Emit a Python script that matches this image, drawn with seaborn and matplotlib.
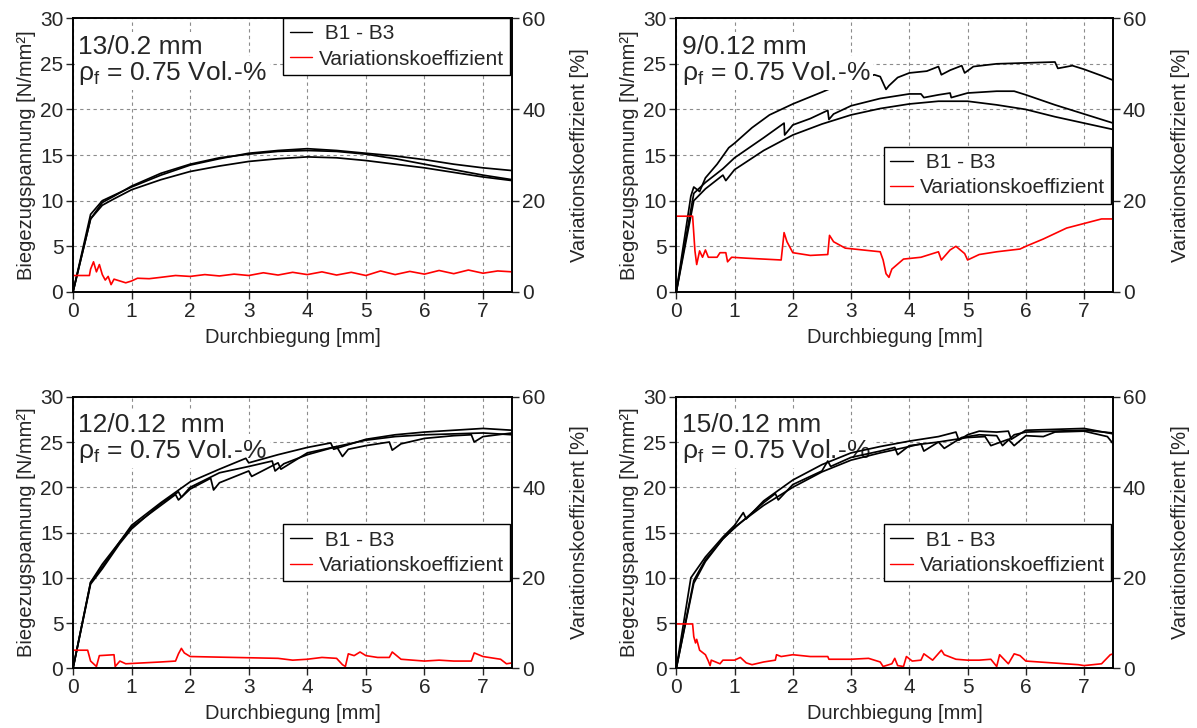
import matplotlib
matplotlib.use("Agg")
import matplotlib.pyplot as plt
import seaborn as sns
from matplotlib.lines import Line2D

# panel titles
titles = ["13/0.2 mm", "9/0.12 mm", "12/0.12  mm", "15/0.12 mm"]
rho_text = r"ρ$_\mathrm{f}$ = 0.75 Vol.-%"
legend_labels = [" B1 - B3", "Variationskoeffizient"]

# --- 13/0.2 mm: stress [N/mm²] vs deflection [mm], B1..B3
d13_x = [0, 0.3, 0.5, 0.7, 1, 1.5, 2, 2.5, 3, 3.5, 4, 4.5, 5, 5.5, 6, 6.5, 7, 7.5]
d13_y1 = [0, 8.5, 10, 10.6, 11.5, 12.8, 13.9, 14.6, 15.2, 15.5, 15.7, 15.5, 15.2, 14.9, 14.5, 14.0, 13.6, 13.3]
d13_y2 = [0, 8, 9.8, 10.5, 11.6, 13, 14, 14.7, 15.1, 15.4, 15.5, 15.4, 15.1, 14.6, 14.0, 13.4, 12.8, 12.3]
d13_y3 = [0, 8, 9.5, 10.2, 11.2, 12.3, 13.2, 13.8, 14.3, 14.6, 14.8, 14.7, 14.4, 14.0, 13.6, 13.1, 12.6, 12.2]
# coefficient of variation [%]
cov13_x = [0, 0.28, 0.3, 0.35, 0.4, 0.45, 0.5, 0.55, 0.6, 0.65, 0.7, 0.8, 0.9, 1.0, 1.1, 1.3, 1.5, 1.75, 2.0, 2.25,
           2.5, 2.75, 3.0, 3.25, 3.5, 3.75, 4.0, 4.25, 4.5, 4.75, 5.0, 5.25, 5.5, 5.75, 6.0, 6.25, 6.5, 6.75, 7.0, 7.25, 7.5]
cov13_y = [3.6, 3.6, 5.0, 6.6, 4.4, 6.0, 3.8, 2.6, 3.4, 1.6, 2.8, 2.4, 2.0, 2.4, 3.0, 2.9, 3.2, 3.6, 3.4, 3.8,
           3.5, 3.9, 3.6, 4.2, 3.7, 4.3, 3.8, 4.4, 3.7, 4.3, 3.6, 4.6, 3.8, 4.5, 3.9, 4.7, 4.0, 4.8, 4.1, 4.6, 4.4]

# --- 9/0.12 mm
d9_x1 = [0, 0.25, 0.3, 0.4, 0.5, 0.7, 0.9, 1.0, 1.3, 1.6, 2.0, 2.5, 2.8, 3.4, 3.5, 3.6, 3.65, 3.8, 4.0, 4.3,
         4.5, 4.55, 4.7, 4.9, 4.95, 5.1, 5.5, 6.0, 6.5, 6.55, 6.8, 7.0, 7.3, 7.5]
d9_y1 = [0, 10.5, 11.5, 11.0, 12.5, 14.0, 15.8, 16.3, 18.0, 19.4, 20.6, 21.9, 22.7, 23.8, 23.6, 22.2, 22.6, 23.5, 24.0, 24.2,
         24.7, 23.8, 24.3, 24.8, 24.0, 24.7, 25.0, 25.1, 25.2, 24.5, 24.8, 24.4, 23.7, 23.2]
d9_x2 = [0, 0.3, 0.5, 0.8, 1.0, 1.5, 1.85, 1.86, 2.0, 2.3, 2.6, 2.62, 2.7, 3.0, 3.5, 4.0, 4.2, 4.25, 4.5, 4.7,
         4.72, 5.0, 5.5, 5.8, 6.0, 6.5, 7.0, 7.5]
d9_y2 = [0, 10.8, 12.0, 13.5, 14.7, 16.9, 18.5, 17.2, 18.3, 19.0, 19.9, 18.9, 19.5, 20.4, 21.2, 21.7, 21.7, 21.3, 21.6, 21.8,
         21.3, 21.8, 22.0, 22.0, 21.6, 20.5, 19.5, 18.5]
d9_x3 = [0, 0.3, 0.5, 0.8, 0.85, 1.0, 1.5, 2.0, 2.5, 3.0, 3.5, 4.0, 4.5, 5.0, 5.5, 6.0, 6.5, 7.0, 7.5]
d9_y3 = [0, 10.0, 11.3, 12.8, 12.2, 13.4, 15.5, 17.2, 18.4, 19.4, 20.1, 20.6, 20.9, 20.9, 20.5, 20.0, 19.2, 18.5, 17.8]
cov9_x = [0, 0.28, 0.32, 0.35, 0.4, 0.45, 0.5, 0.55, 0.7, 0.75, 0.85, 0.88, 0.95, 1.2, 1.5, 1.8, 1.85, 1.9, 2.0, 2.3,
          2.6, 2.63, 2.7, 2.9, 3.2, 3.5, 3.55, 3.6, 3.65, 3.7, 3.9, 4.2, 4.5, 4.55, 4.7, 4.8, 4.95, 5.0, 5.2, 5.5,
          5.9, 6.0, 6.3, 6.5, 6.7, 7.0, 7.3, 7.5]
cov9_y = [16.6, 16.6, 9.0, 6.0, 9.0, 7.6, 9.2, 7.6, 7.6, 8.6, 8.6, 6.6, 7.6, 7.4, 7.2, 7.0, 13.0, 11.0, 8.6, 8.0,
          8.2, 12.4, 11.0, 9.6, 9.2, 8.8, 7.0, 4.0, 3.2, 5.0, 7.2, 7.6, 8.8, 7.0, 9.2, 10.0, 8.4, 7.0, 8.2, 8.8,
          9.4, 10.0, 11.6, 12.8, 14.0, 15.0, 16.0, 16.0]

# --- 12/0.12 mm
d12_x1 = [0, 0.3, 0.5, 0.8, 1.0, 1.5, 2.0, 2.5, 2.95, 3.0, 3.5, 4.0, 4.4, 4.45, 5.0, 5.5, 6.0, 6.5, 7.0, 7.5]
d12_y1 = [0, 9.5, 11.5, 14.0, 15.8, 18.3, 20.6, 22.0, 23.2, 22.7, 23.6, 24.4, 24.9, 24.2, 25.3, 25.8, 26.1, 26.3, 26.5, 26.3]
d12_x2 = [0, 0.3, 0.5, 0.8, 1.0, 1.5, 1.75, 1.8, 2.0, 2.35, 2.4, 2.5, 3.0, 3.05, 3.5, 3.55, 4.0, 4.5, 4.6, 4.7,
          5.0, 5.4, 5.45, 5.6, 6.0, 6.5, 6.8, 6.85, 7.0, 7.5]
d12_y2 = [0, 9.5, 11.2, 14.0, 15.6, 18.0, 19.2, 18.6, 19.8, 21.0, 19.7, 20.5, 21.8, 21.2, 22.7, 22.0, 23.8, 24.5, 23.4, 24.2,
          24.6, 25.0, 24.1, 24.8, 25.4, 25.7, 25.8, 25.0, 25.6, 26.0]
d12_x3 = [0, 0.3, 0.5, 0.8, 1.0, 1.5, 1.8, 1.85, 2.0, 2.5, 3.0, 3.4, 3.45, 3.6, 4.0, 4.5, 5.0, 5.5, 6.0, 6.5, 7.0, 7.5]
d12_y3 = [0, 9.3, 11.0, 13.8, 15.4, 18.2, 19.5, 18.9, 20.0, 21.6, 22.3, 22.9, 21.8, 22.6, 23.6, 24.5, 25.2, 25.6, 25.8, 25.9, 26.0, 25.8]
cov12_x = [0, 0.25, 0.3, 0.4, 0.45, 0.7, 0.72, 0.8, 0.9, 1.2, 1.5, 1.75, 1.8, 1.85, 1.9, 2.0, 3.5, 3.75, 4.0, 4.25,
           4.5, 4.6, 4.65, 4.7, 4.8, 4.9, 5.0, 5.2, 5.4, 5.45, 5.6, 6.0, 6.25, 6.5, 6.8, 6.85, 7.0, 7.3, 7.4, 7.5]
cov12_y = [4.0, 4.0, 1.6, 0.4, 2.8, 3.0, 0.4, 1.6, 1.0, 1.2, 1.4, 1.6, 3.2, 4.4, 3.4, 2.6, 2.2, 1.8, 2.0, 2.4,
           2.2, 0.8, 0.4, 3.2, 2.8, 3.6, 2.8, 2.4, 2.4, 3.6, 2.0, 1.6, 1.8, 1.6, 1.6, 3.4, 2.6, 2.0, 1.0, 1.2]

# --- 15/0.12 mm
d15_x1 = [0, 0.25, 0.5, 0.8, 1.0, 1.15, 1.2, 1.5, 2.0, 2.5, 3.0, 3.5, 4.0, 4.5, 4.8, 4.85, 5.0, 5.2, 5.5, 5.7,
          5.75, 6.0, 6.5, 7.0, 7.5]
d15_y1 = [0, 10.0, 12.3, 14.5, 15.8, 17.2, 16.5, 18.5, 20.8, 22.5, 23.8, 24.5, 25.1, 25.6, 26.1, 25.2, 25.8, 26.2, 26.1, 26.2,
          25.3, 26.3, 26.4, 26.5, 25.9]
d15_x2 = [0, 0.3, 0.5, 0.8, 1.0, 1.5, 1.7, 1.75, 2.0, 2.5, 2.6, 2.65, 3.0, 3.5, 3.75, 3.8, 4.0, 4.5, 4.6, 4.9,
          5.2, 5.5, 5.6, 5.8, 6.0, 6.5, 7.0, 7.5]
d15_y2 = [0, 9.7, 12.0, 14.3, 15.5, 18.3, 19.3, 18.6, 20.3, 21.8, 22.9, 22.3, 23.3, 24.0, 24.4, 23.6, 24.6, 25.0, 24.3, 25.5,
          25.8, 25.7, 24.6, 25.8, 26.1, 26.2, 26.3, 26.0]
d15_x3 = [0, 0.3, 0.5, 0.8, 1.0, 1.5, 2.0, 2.5, 3.0, 3.5, 4.0, 4.2, 4.25, 4.5, 4.8, 5.0, 5.3, 5.4, 5.7, 5.8,
          6.0, 6.3, 6.5, 7.0, 7.4, 7.5]
d15_y3 = [0, 9.4, 11.8, 14.3, 15.6, 18.0, 20.0, 21.7, 23.0, 23.8, 24.5, 24.8, 24.0, 25.0, 25.3, 25.5, 25.6, 24.6, 25.3, 24.6,
          25.7, 25.6, 26.1, 26.2, 25.6, 24.8]
cov15_x = [0, 0.28, 0.3, 0.33, 0.35, 0.4, 0.5, 0.55, 0.58, 0.6, 0.75, 0.8, 1.0, 1.1, 1.2, 1.3, 1.5, 1.7, 1.72, 1.8,
           2.0, 2.3, 2.6, 2.62, 3.0, 3.3, 3.5, 3.55, 3.7, 3.75, 3.8, 3.9, 3.95, 4.05, 4.2, 4.25, 4.4, 4.55, 4.6, 4.8,
           5.0, 5.2, 5.4, 5.5, 5.55, 5.7, 5.8, 5.9, 6.0, 6.9, 7.0, 7.3, 7.45, 7.5]
cov15_y = [9.8, 9.8, 7.0, 5.6, 6.4, 4.0, 3.0, 1.6, 0.6, 1.8, 1.0, 1.8, 1.8, 2.4, 1.2, 0.8, 1.4, 1.8, 3.0, 2.6,
           3.0, 2.6, 2.6, 2.0, 2.0, 2.2, 1.4, 0.4, 1.0, 2.2, 0.6, 0.4, 2.6, 1.6, 1.8, 3.2, 1.8, 4.0, 3.0, 2.0,
           1.8, 1.8, 2.0, 0.4, 3.0, 1.0, 3.2, 2.8, 1.6, 0.8, 0.6, 1.0, 3.0, 3.2]

sns.set_style("ticks")
plt.rcParams["font.family"] = ["Liberation Sans", "DejaVu Sans"]
plt.rcParams["mathtext.fontset"] = "custom"
plt.rcParams["mathtext.rm"] = "Liberation Sans"
plt.rcParams["mathtext.it"] = "Liberation Sans:italic"

panels = [
    dict(title=titles[0], curves=[(d13_x, d13_y1), (d13_x, d13_y2), (d13_x, d13_y3)],
         cov=(cov13_x, cov13_y), pos=[0.061, 0.599, 0.367, 0.376], leg_y=1.0, tz=2.4),
    dict(title=titles[1], curves=[(d9_x1, d9_y1), (d9_x2, d9_y2), (d9_x3, d9_y3)],
         cov=(cov9_x, cov9_y), pos=[0.565, 0.599, 0.365, 0.376], leg_y=0.53, tz=2.4),
    dict(title=titles[2], curves=[(d12_x1, d12_y1), (d12_x2, d12_y2), (d12_x3, d12_y3)],
         cov=(cov12_x, cov12_y), pos=[0.061, 0.082, 0.367, 0.373], leg_y=0.53, tz=1.5),
    dict(title=titles[3], curves=[(d15_x1, d15_y1), (d15_x2, d15_y2), (d15_x3, d15_y3)],
         cov=(cov15_x, cov15_y), pos=[0.565, 0.082, 0.365, 0.373], leg_y=0.53, tz=1.5),
]

fig = plt.figure(figsize=(11.97, 7.28), dpi=100)

for p in panels:
    ax = fig.add_axes(p["pos"])
    ax2 = ax.twinx()

    for xs, ys in p["curves"]:
        sns.lineplot(x=xs, y=ys, ax=ax, color="black", lw=1.25, sort=False, estimator=None, legend=False)
    sns.lineplot(x=p["cov"][0], y=p["cov"][1], ax=ax2, color="red", lw=1.2, sort=False, estimator=None, legend=False)

    ax.set_xlim(0, 7.5)
    ax.set_ylim(0, 30)
    ax2.set_ylim(0, 60)
    ax.set_xticks(range(8))
    ax.set_yticks(range(0, 31, 5))
    ax2.set_yticks([0, 20, 40, 60])
    ax.grid(True, ls=(0, (3, 3)), color="#8c8c8c", lw=0.8)
    ax.tick_params(direction="out", length=5, width=1, labelsize=15, pad=2)
    ax2.tick_params(direction="out", length=5, width=1, labelsize=15, pad=2)
    for a in (ax, ax2):
        for s in a.spines.values():
            s.set_linewidth(1.2)
            s.set_color("black")

    ax.set_xlabel("Durchbiegung [mm]", fontsize=14.5, labelpad=5)
    ax.set_ylabel("Biegezugspannung [N/mm²]", fontsize=14.5, labelpad=3)
    ax2.set_ylabel("Variationskoeffizient [%]", fontsize=14.5, labelpad=18)

    box = dict(facecolor="white", edgecolor="none", pad=2)
    ax.text(0.012, 0.869, p["title"], transform=ax.transAxes, fontsize=19,
            va="baseline", ha="left", bbox=box, zorder=p["tz"])
    ax.text(0.012, 0.774, rho_text, transform=ax.transAxes, fontsize=19,
            va="baseline", ha="left", bbox=box, zorder=p["tz"])

    handles = [Line2D([], [], color="black", lw=1), Line2D([], [], color="red", lw=1)]
    leg = ax2.legend(handles, legend_labels, loc="upper right", bbox_to_anchor=(0.995, p["leg_y"]),
                     borderaxespad=0, frameon=True, fancybox=False, edgecolor="black", framealpha=1,
                     fontsize=15, handlelength=1.1, handletextpad=0.3, borderpad=0.3, labelspacing=0.3)
    leg.get_frame().set_linewidth(1)

fig.savefig("out.png", dpi=100)
